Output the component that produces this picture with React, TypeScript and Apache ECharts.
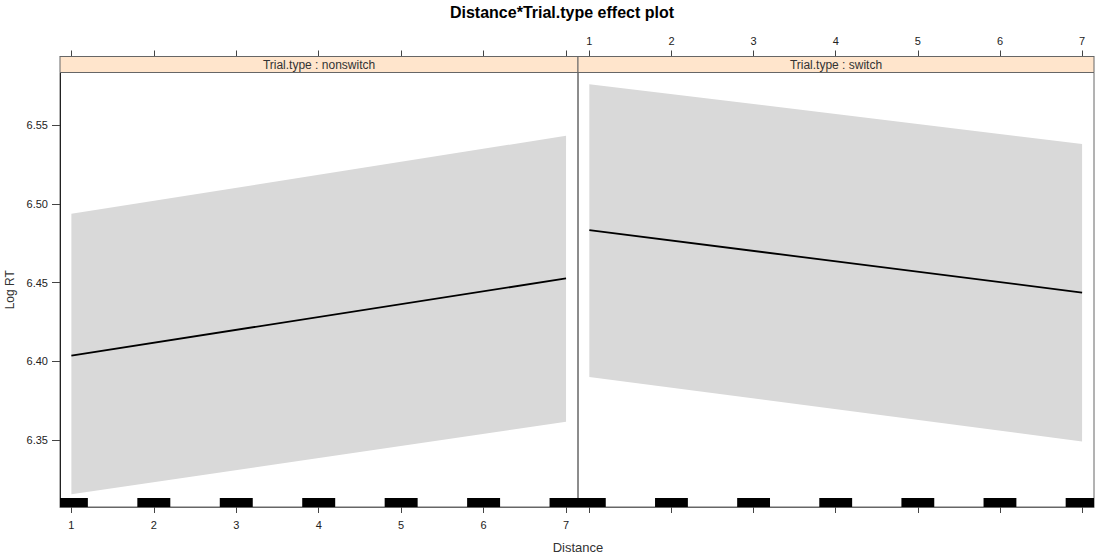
import { useEffect, useRef } from "react";
import * as echarts from "echarts";

// Effect of Distance on log reaction time, by trial type
const distance = [1, 7];
const nonswitchFit = [6.4036, 6.4526];
const nonswitchLower = [6.3155, 6.3616];
const nonswitchUpper = [6.4937, 6.5432];
const switchFit = [6.4833, 6.4436];
const switchLower = [6.39, 6.349];
const switchUpper = [6.576, 6.538];

// Distances present in the data (shown as a rug along the panel bottom)
const rugDistances = [1, 2, 3, 4, 5, 6, 7];

const xTicks = [1, 2, 3, 4, 5, 6, 7];
const yTicks = [6.35, 6.4, 6.45, 6.5, 6.55];
const panelTitles = ["Trial.type : nonswitch", "Trial.type : switch"];

const X_MIN = 0.862;
const X_MAX = 7.145;
const Y_MIN = 6.3074;
const Y_MAX = 6.5834;

const FONT = "'Liberation Sans', Arial, sans-serif";
const GRID_TOP = 72.5;
const GRID_H = 434.5;
const STRIP_H = 16;
const PANELS = [
  { left: 60, width: 518 },
  { left: 578, width: 516 },
];

const rows = (lo: number[], hi: number[]) => distance.map((d, i) => [d, lo[i], hi[i]]);

// Confidence band: one filled quadrilateral between consecutive distances
const bandSeries = (xi: number, lo: number[], hi: number[]) => {
  const data = rows(lo, hi);
  return {
    type: "custom",
    xAxisIndex: xi,
    yAxisIndex: xi / 2,
    clip: true,
    silent: true,
    data,
    renderItem: (params: any, api: any) => {
      const i = params.dataIndex;
      if (i >= data.length - 1) return null;
      const a = data[i];
      const b = data[i + 1];
      const pts = [
        api.coord([a[0], a[2]]),
        api.coord([b[0], b[2]]),
        api.coord([b[0], b[1]]),
        api.coord([a[0], a[1]]),
      ];
      return {
        type: "polygon",
        shape: { points: pts },
        style: { fill: "#D9D9D9", stroke: "none" },
      };
    },
    z: 1,
  };
};

const lineSeries = (xi: number, fit: number[]) => ({
  type: "line",
  xAxisIndex: xi,
  yAxisIndex: xi / 2,
  data: distance.map((d, i) => [d, fit[i]]),
  symbol: "none",
  lineStyle: { color: "#000", width: 1.8 },
  silent: true,
  z: 3,
});

const rugSeries = (xi: number) => ({
  type: "custom",
  xAxisIndex: xi,
  yAxisIndex: xi / 2,
  clip: true,
  silent: true,
  data: rugDistances.map((d) => [d]),
  renderItem: (_params: any, api: any) => {
    const x = api.value(0);
    const p0 = api.coord([x - 0.2, Y_MIN]);
    const p1 = api.coord([x + 0.2, Y_MIN]);
    return {
      type: "rect",
      shape: { x: p0[0], y: p0[1] - 9, width: p1[0] - p0[0], height: 9 },
      style: { fill: "#000" },
    };
  },
  z: 4,
});

const xAxisDef = (grid: number, position: "top" | "bottom", labels: boolean) => ({
  type: "value",
  gridIndex: grid,
  position,
  offset: position === "top" ? STRIP_H : 0,
  min: X_MIN,
  max: X_MAX,
  splitLine: { show: false },
  axisLine: { show: true, lineStyle: { color: "#666", width: 1 } },
  axisTick: {
    show: true,
    inside: false,
    length: 6,
    customValues: xTicks,
    lineStyle: { color: "#444" },
  },
  axisLabel: {
    show: labels,
    customValues: xTicks,
    margin: position === "top" ? 10 : 12,
    color: "#222",
    fontSize: 11,
    fontFamily: FONT,
  },
});

export default function App() {
  const ref = useRef<HTMLDivElement>(null);

  useEffect(() => {
    const chart = echarts.init(ref.current!, null, { renderer: "svg" });

    const strips: any[] = [];
    PANELS.forEach((p, i) => {
      strips.push({
        type: "rect",
        shape: { x: p.left, y: GRID_TOP - STRIP_H, width: p.width, height: STRIP_H },
        style: { fill: "#FFE5CC", stroke: "#666", lineWidth: 1 },
        z: 10,
      });
      strips.push({
        type: "text",
        x: p.left + p.width / 2,
        y: GRID_TOP - STRIP_H / 2,
        style: {
          text: panelTitles[i],
          fill: "#333",
          font: `12px ${FONT}`,
          align: "center",
          verticalAlign: "middle",
        },
        z: 11,
      });
    });

    chart.setOption({
      animation: false,
      backgroundColor: "#fff",
      title: [
        {
          text: "Distance*Trial.type effect plot",
          left: 562,
          top: 4,
          padding: 0,
          textAlign: "center",
          textStyle: { fontSize: 16, fontWeight: "bold", color: "#000", fontFamily: FONT },
        },
        {
          text: "Distance",
          left: 578,
          top: 541,
          padding: 0,
          textAlign: "center",
          textStyle: { fontSize: 13, fontWeight: "normal", color: "#333", fontFamily: FONT },
        },
      ],
      grid: PANELS.map((p) => ({
        left: p.left,
        top: GRID_TOP,
        width: p.width,
        height: GRID_H,
        show: true,
        borderColor: "#666",
        borderWidth: 1,
        backgroundColor: "transparent",
      })),
      xAxis: [
        xAxisDef(0, "bottom", true),
        xAxisDef(0, "top", false),
        xAxisDef(1, "bottom", false),
        xAxisDef(1, "top", true),
      ],
      yAxis: [
        {
          type: "value",
          gridIndex: 0,
          position: "left",
          min: Y_MIN,
          max: Y_MAX,
          name: "Log RT",
          nameLocation: "middle",
          nameRotate: 90,
          nameGap: 44,
          nameTextStyle: { fontSize: 12, color: "#333", fontFamily: FONT },
          splitLine: { show: false },
          axisLine: { show: true, lineStyle: { color: "#222", width: 1 } },
          axisTick: {
            show: true,
            length: 8,
            customValues: yTicks,
            lineStyle: { color: "#444" },
          },
          axisLabel: {
            customValues: yTicks,
            margin: 12,
            color: "#222",
            fontSize: 11,
            fontFamily: FONT,
            formatter: (v: number) => v.toFixed(2),
          },
        },
        {
          type: "value",
          gridIndex: 1,
          min: Y_MIN,
          max: Y_MAX,
          show: false,
          splitLine: { show: false },
        },
      ],
      series: [
        bandSeries(0, nonswitchLower, nonswitchUpper),
        lineSeries(0, nonswitchFit),
        rugSeries(0),
        bandSeries(2, switchLower, switchUpper),
        lineSeries(2, switchFit),
        rugSeries(2),
      ],
      graphic: strips,
    });

    return () => chart.dispose();
  }, []);

  return (
    <div
      ref={ref}
      style={{ position: "fixed", left: 0, top: 0, width: 1096, height: 559, background: "#fff" }}
    />
  );
}
